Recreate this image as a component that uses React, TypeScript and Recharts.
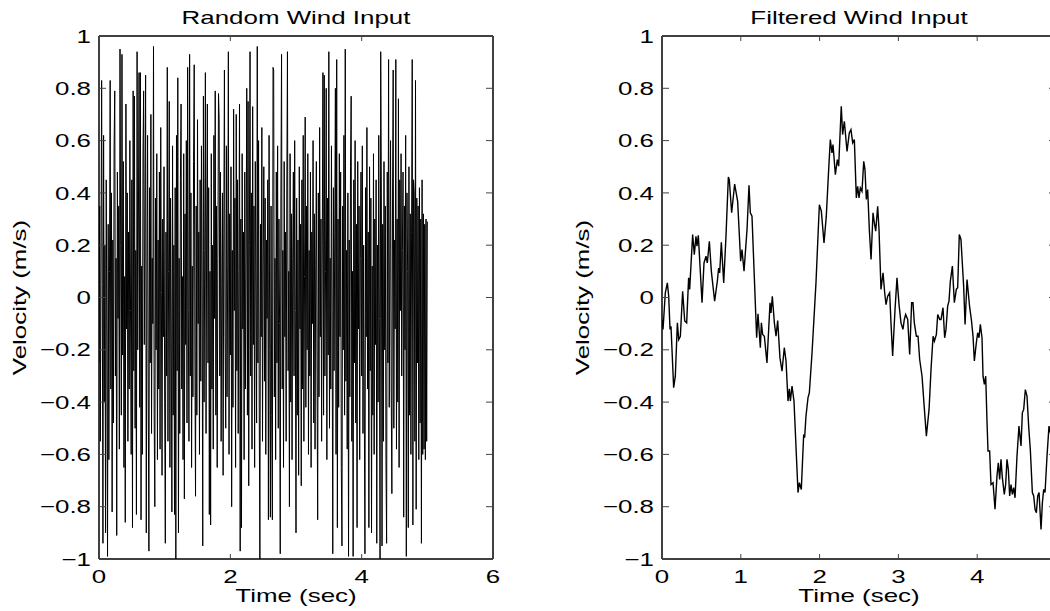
import React from 'react';
import { LineChart, Line, XAxis, YAxis } from 'recharts';

// random wind input, one sample every 0.01 s from 0 to 5 s
const noiseVel = [
  -0.25, 0.35, -0.55, 0.12, 0.83, 0.05, -0.94, 0.62, -0.4, 0.2,
  -0.9, 0.45, -0.15, -0.99, 0.28, -0.62, 0.1, 0.83, -0.35, 0.4,
  -0.82, 0.22, -0.48, 0.58, 0.79, -0.3, 0.15, -0.91, 0.48, -0.08,
  0.35, -0.58, 0.95, 0.2, -0.45, 0.93, -0.22, 0.52, -0.65, 0.08,
  -0.86, 0.74, -0.12, 0.4, -0.55, 0.25, -0.35, 0.6, -0.05, -0.6,
  0.45, -0.88, 0.79, -0.28, 0.77, -0.5, 0.18, -0.83, 0.94, -0.2,
  0.3, 0.86, -0.42, 0.86, -0.85, 0.12, -0.6, 0.55, 0.79, -0.18,
  0.35, 0.85, -0.9, 0.05, 0.62, -0.38, -0.97, 0.42, -0.25, 0.7,
  -0.52, 0.15, -0.1, 0.96, -0.45, -0.8, 0.38, -0.2, 0.55, -0.62,
  0.22, -0.35, 0.48, -0.58, 0.65, 0.02, -0.68, 0.3, -0.15, 0.5,
  -0.4, -0.94, 0.25, -0.3, 0.88, -0.55, 0.1, 0.75, -0.65, 0.38,
  -0.12, -0.82, 0.58, -0.45, 0.2, -0.83, 0.42, -1.0, 0.62, -0.28,
  0.84, -0.9, 0.15, -0.52, 0.45, 0.74, -0.35, 0.08, -0.62, 0.55,
  -0.77, 0.32, -0.18, 0.6, -0.48, 0.88, -0.05, -0.55, 0.93, -0.3,
  0.4, -0.65, 0.12, -0.38, 0.52, 0.89, -0.2, -0.76, 0.35, -0.45,
  0.68, -0.1, 0.25, -0.6, 0.45, -0.32, 0.58, 0.05, -0.95, 0.77,
  -0.4, 0.18, 0.86, -0.52, 0.3, 0.74, -0.25, 0.42, -0.83, 0.1,
  -0.87, 0.55, -0.35, 0.2, -0.58, 0.62, -0.08, 0.79, -0.45, 0.35,
  -0.65, 0.15, 0.78, 0.68, -0.3, 0.48, -0.55, 0.05, 0.4, -0.68,
  0.25, 0.87, -0.15, -0.5, 0.58, -0.38, 0.12, 0.94, -0.6, 0.32,
  -0.22, 0.5, -0.8, 0.18, -0.42, 0.72, -0.05, 0.38, -0.65, 0.7,
  -0.28, 0.45, -0.52, 0.1, 0.74, -0.97, 0.3, -0.88, 0.55, -0.12,
  0.25, -0.62, 0.48, -0.35, 0.15, 0.8, -0.45, 0.75, -0.72, 0.2,
  0.94, -0.3, 0.4, -0.58, 0.73, -0.18, 0.35, -0.65, 0.52, 0.02,
  -0.48, 0.96, -0.25, 0.6, -0.4, -1.0, 0.28, -0.15, 0.65, -0.55,
  0.12, 0.5, -0.32, 0.38, -0.6, 0.22, -0.08, 0.45, -0.85, 0.62,
  -0.2, -0.84, 0.35, -0.45, -0.85, 0.88, 0.87, -0.38, 0.15, -0.62,
  0.48, -0.25, 0.58, -0.5, 0.3, -0.1, -0.98, 0.4, 0.93, -0.35,
  0.18, -0.65, 0.52, -0.15, 0.25, -0.55, 0.42, 0.94, -0.28, 0.1,
  -0.8, 0.55, -0.4, 0.32, -0.62, 0.15, 0.48, -0.3, 0.6, -0.05,
  -0.9, 0.38, -0.45, 0.22, -0.68, 0.5, -0.12, 0.28, -0.72, 0.45,
  -0.35, 0.62, -0.55, 0.08, 0.69, -0.42, 0.35, -0.2, 0.55, -0.6,
  0.18, -0.3, 0.48, -0.65, 0.25, -0.1, 0.6, -0.48, 0.32, -0.58,
  0.12, 0.52, -0.25, -0.85, 0.4, -0.38, 0.65, -0.15, 0.3, -0.55,
  0.2, 0.86, -0.45, 0.85, -0.3, 0.1, 0.8, -0.62, 0.38, -0.22,
  0.94, -0.5, 0.15, -0.35, 0.58, -0.05, -0.98, 0.42, -0.28, 0.25,
  0.8, -0.6, 0.91, -0.88, 0.3, -0.42, 0.55, -0.15, 0.48, -0.65,
  -0.95, 0.35, -0.2, 0.62, -0.45, 0.95, -0.32, 0.18, -0.58, 0.4,
  -0.99, 0.22, -0.38, 0.5, 0.77, -0.55, 0.1, -0.99, 0.45, -0.25,
  0.6, -0.48, 0.28, -0.88, 0.52, -0.12, 0.35, -0.62, 0.15, 0.48,
  -0.3, 0.58, -0.52, 0.2, -0.4, -0.98, 0.42, -0.15, 0.65, -0.35,
  0.25, -0.88, 0.5, -0.28, 0.38, -0.9, 0.12, -0.45, 0.55, -0.6,
  0.3, -0.18, 0.45, -0.94, 0.2, -0.4, 0.62, -0.08, -1.0, 0.94,
  0.4, -0.95, 0.28, -0.55, 0.52, -0.2, 0.35, -0.62, -0.94, 0.48,
  -0.25, 0.91, -0.42, 0.15, 0.6, -0.35, -0.75, 0.38, 0.87, -0.5,
  0.22, -0.12, 0.91, -0.58, 0.3, -0.4, 0.76, -0.65, 0.45, -0.05,
  0.55, -0.3, 0.18, 0.48, -0.84, 0.35, -0.2, 0.62, -0.99, 0.4,
  0.1, -0.88, 0.5, -0.45, 0.32, -0.6, 0.25, 0.91, -0.87, 0.45,
  0.4, -0.55, 0.83, -0.81, 0.38, -0.25, 0.35, -0.62, 0.42, -0.48,
  0.3, -0.94, 0.45, -0.6, 0.32, -0.58, 0.28, -0.62, 0.3, -0.55,
  0.29,
];

// filtered wind input
const filtTime = [
  0, 0.013, 0.042, 0.068, 0.085, 0.102, 0.114, 0.148, 0.169, 0.195,
  0.212, 0.233, 0.262, 0.288, 0.313, 0.338, 0.351, 0.389, 0.41, 0.431,
  0.444, 0.461, 0.508, 0.533, 0.558, 0.575, 0.601, 0.626, 0.668, 0.702,
  0.719, 0.732, 0.753, 0.783, 0.812, 0.842, 0.854, 0.884, 0.922, 0.96,
  0.998, 1.015, 1.041, 1.079, 1.104, 1.121, 1.142, 1.201, 1.218, 1.248,
  1.261, 1.277, 1.299, 1.332, 1.371, 1.383, 1.4, 1.426, 1.447, 1.468,
  1.497, 1.523, 1.552, 1.574, 1.599, 1.616, 1.629, 1.65, 1.675, 1.726,
  1.743, 1.768, 1.798, 1.81, 1.827, 1.853, 1.87, 1.904, 1.929, 1.954,
  1.997, 2.022, 2.056, 2.085, 2.115, 2.136, 2.157, 2.17, 2.2, 2.225,
  2.242, 2.275, 2.292, 2.314, 2.348, 2.377, 2.398, 2.42, 2.441,
  2.466, 2.483, 2.5, 2.517, 2.538, 2.56, 2.576, 2.593, 2.61, 2.631,
  2.653, 2.678, 2.695, 2.712, 2.737, 2.754, 2.779, 2.805, 2.826, 2.843,
  2.864, 2.889, 2.906, 2.927, 2.957, 2.982, 3.008, 3.033, 3.058, 3.075,
  3.092, 3.118, 3.143, 3.168, 3.185, 3.202, 3.228, 3.249, 3.27, 3.3,
  3.33, 3.355, 3.389, 3.414, 3.44, 3.457, 3.482, 3.499, 3.524, 3.541,
  3.566, 3.587, 3.604, 3.625, 3.642, 3.659, 3.685, 3.71, 3.735, 3.752,
  3.773, 3.794, 3.828, 3.846, 3.871, 3.905, 3.926, 3.947, 3.964, 3.989,
  4.006, 4.023, 4.04, 4.061, 4.074, 4.091, 4.108, 4.125, 4.137, 4.158,
  4.175, 4.201, 4.226, 4.251, 4.268, 4.285, 4.302, 4.319, 4.344, 4.361,
  4.378, 4.395, 4.412, 4.429, 4.446, 4.463, 4.48, 4.505, 4.53, 4.556,
  4.573, 4.59, 4.611, 4.632, 4.653, 4.675, 4.7, 4.717, 4.734, 4.751,
  4.768, 4.785, 4.81, 4.827, 4.844, 4.861, 4.886, 4.911, 4.928, 4.96,
  5.0,
];
const filtVel = [
  -0.084, -0.122, 0.018, 0.056, 0.005, -0.122, -0.11, -0.345, -0.301, -0.097,
  -0.161, -0.148, 0.024, -0.09, -0.097, 0.075, 0.031, 0.241, 0.164, 0.234,
  0.196, 0.238, -0.02, 0.132, 0.158, 0.132, 0.215, 0.101, -0.014, 0.062,
  0.113, 0.094, 0.211, 0.056, 0.234, 0.461, 0.451, 0.324, 0.434, 0.368,
  0.139, 0.183, 0.101, 0.26, 0.429, 0.324, 0.311, -0.154, -0.062, -0.192,
  -0.097, -0.141, -0.148, -0.25, -0.02, -0.059, 0.005, -0.097, -0.148, -0.088,
  -0.231, -0.282, -0.192, -0.243, -0.396, -0.349, -0.396, -0.339, -0.396, -0.746,
  -0.708, -0.734, -0.524, -0.536, -0.454, -0.383, -0.364, -0.211, -0.078, 0.056,
  0.355, 0.33, 0.209, 0.311, 0.489, 0.604, 0.553, 0.585, 0.47, 0.527,
  0.502, 0.731, 0.623, 0.674, 0.559, 0.629, 0.642, 0.591, 0.604,
  0.381, 0.425, 0.381, 0.419, 0.406, 0.521, 0.489, 0.375, 0.413, 0.26,
  0.145, 0.324, 0.285, 0.254, 0.349, 0.26, 0.031, 0.094, 0.018, -0.027,
  0.005, 0.018, -0.097, -0.224, -0.046, 0.075, -0.027, -0.097, -0.122, -0.084,
  -0.065, -0.084, -0.218, -0.02, -0.02, -0.097, -0.148, -0.148, -0.237, -0.301,
  -0.428, -0.53, -0.428, -0.275, -0.148, -0.167, -0.141, -0.065, -0.084, -0.084,
  -0.039, -0.154, -0.122, -0.033, -0.014, 0.062, 0.12, -0.02, 0.031, 0.037,
  0.241, 0.222, 0.043, -0.103, 0.069, -0.039, -0.084, -0.148, -0.243, -0.173,
  -0.135, -0.154, -0.103, -0.154, -0.301, -0.332, -0.301, -0.479, -0.587, -0.587,
  -0.715, -0.708, -0.81, -0.683, -0.632, -0.696, -0.619, -0.689, -0.753, -0.715,
  -0.619, -0.657, -0.759, -0.715, -0.753, -0.727, -0.766, -0.606, -0.492, -0.568,
  -0.441, -0.428, -0.352, -0.377, -0.492, -0.587, -0.746, -0.759, -0.81, -0.823,
  -0.759, -0.746, -0.887, -0.785, -0.734, -0.746, -0.606, -0.492, -0.517, -0.55,
  -0.62,
];

const velTicks = [-1, -0.8, -0.6, -0.4, -0.2, 0, 0.2, 0.4, 0.6, 0.8, 1];
const randomTimeTicks = [0, 2, 4, 6];
const filteredTimeTicks = [0, 1, 2, 3, 4, 5];

const noiseData = noiseVel.map((v, i) => ({ t: i / 100, v }));
const filtData = filtTime.map((t, i) => ({ t, v: filtVel[i] }));

const FONT = '"Liberation Sans", Arial, Helvetica, sans-serif';
const FS = 18.5;
const STRETCH = 1.4; // the reference text is drawn wide
const AXIS = { stroke: '#000', strokeWidth: 1.5 };
const TICK_COLOR = '#444';

const fmtVel = (v: number) =>
  v === 0 ? '0' : (Math.abs(v) === 1 ? String(v) : v.toFixed(1)).replace('-', '\u2212');

const WideText = ({ x, y, anchor, rotate, dy, children }: any) => (
  <text
    transform={`translate(${x},${y})${rotate ? ' rotate(-90)' : ''} scale(${STRETCH},1)`}
    textAnchor={anchor}
    dy={dy}
    fontFamily={FONT}
    fontSize={FS}
    fill="#000"
  >
    {children}
  </text>
);

const LeftTick = (p: any) => {
  const ax = p.x + 8;
  return (
    <g>
      <line x1={ax} x2={ax + 7} y1={p.y} y2={p.y} stroke={TICK_COLOR} />
      <WideText x={p.x} y={p.y} anchor="end" dy="0.36em">
        {fmtVel(p.payload.value)}
      </WideText>
    </g>
  );
};

const RightTick = (p: any) => <line x1={p.x - 7} x2={p.x} y1={p.y} y2={p.y} stroke={TICK_COLOR} />;

// labels past labelMax fall outside the picture, so only the tick is drawn
const BottomTick = (p: any) => {
  const ay = p.y - 8;
  return (
    <g>
      <line x1={p.x} x2={p.x} y1={ay} y2={ay - 5} stroke={TICK_COLOR} />
      {p.payload.value <= p.labelMax && (
        <WideText x={p.x} y={ay + 24} anchor="middle">
          {p.payload.value}
        </WideText>
      )}
    </g>
  );
};

const TopTick = (p: any) => <line x1={p.x} x2={p.x} y1={p.y} y2={p.y + 5} stroke={TICK_COLOR} />;

function Subplot({ data, xMax, xTicks, labelMax, title, left, lineWidth }: any) {
  return (
    <div style={{ position: 'absolute', left, top: 0 }}>
      <LineChart width={530} height={611} data={data} margin={{ top: 0, right: 36, bottom: 0, left: 0 }}>
        <XAxis
          dataKey="t"
          type="number"
          domain={[0, xMax]}
          ticks={xTicks}
          allowDataOverflow
          interval={0}
          height={52}
          tickSize={0}
          tickMargin={8}
          tickLine={false}
          axisLine={AXIS}
          tick={(p: any) => <BottomTick {...p} labelMax={labelMax} />}
          label={{
            content: (lp: any) => (
              <WideText x={lp.viewBox.x + lp.viewBox.width / 2} y={lp.viewBox.y + 43} anchor="middle">
                Time (sec)
              </WideText>
            ),
          }}
        />
        <XAxis
          xAxisId="top"
          orientation="top"
          dataKey="t"
          type="number"
          domain={[0, xMax]}
          ticks={xTicks}
          allowDataOverflow
          interval={0}
          height={36}
          tickSize={0}
          tickMargin={0}
          tickLine={false}
          axisLine={AXIS}
          tick={TopTick}
          label={{
            content: (lp: any) => (
              <WideText x={lp.viewBox.x + lp.viewBox.width / 2} y={lp.viewBox.y + 23.5} anchor="middle">
                {title}
              </WideText>
            ),
          }}
        />
        <YAxis
          dataKey="v"
          type="number"
          domain={[-1, 1]}
          ticks={velTicks}
          allowDataOverflow
          interval={0}
          width={99}
          tickSize={0}
          tickMargin={8}
          tickLine={false}
          axisLine={AXIS}
          tick={LeftTick}
          label={{
            content: (lp: any) => (
              <WideText
                x={lp.viewBox.x + lp.viewBox.width - 73}
                y={lp.viewBox.y + lp.viewBox.height / 2}
                anchor="middle"
                rotate
              >
                Velocity (m/s)
              </WideText>
            ),
          }}
        />
        <YAxis
          yAxisId="right"
          orientation="right"
          dataKey="v"
          type="number"
          domain={[-1, 1]}
          ticks={velTicks}
          allowDataOverflow
          interval={0}
          width={1}
          tickSize={0}
          tickMargin={0}
          tickLine={false}
          axisLine={AXIS}
          tick={RightTick}
        />
        <Line
          type="linear"
          dataKey="v"
          stroke="#000"
          strokeWidth={lineWidth}
          dot={false}
          isAnimationActive={false}
        />
      </LineChart>
    </div>
  );
}

export default function App() {
  return (
    <div
      style={{
        position: 'absolute',
        left: 0,
        top: 0,
        width: 1050,
        height: 611,
        overflow: 'hidden',
        background: '#fff',
      }}
    >
      <Subplot
        data={noiseData}
        xMax={6}
        xTicks={randomTimeTicks}
        labelMax={6}
        title="Random Wind Input"
        left={0}
        lineWidth={1}
      />
      <Subplot
        data={filtData}
        xMax={5}
        xTicks={filteredTimeTicks}
        labelMax={4}
        title="Filtered Wind Input"
        left={563}
        lineWidth={1.4}
      />
    </div>
  );
}
